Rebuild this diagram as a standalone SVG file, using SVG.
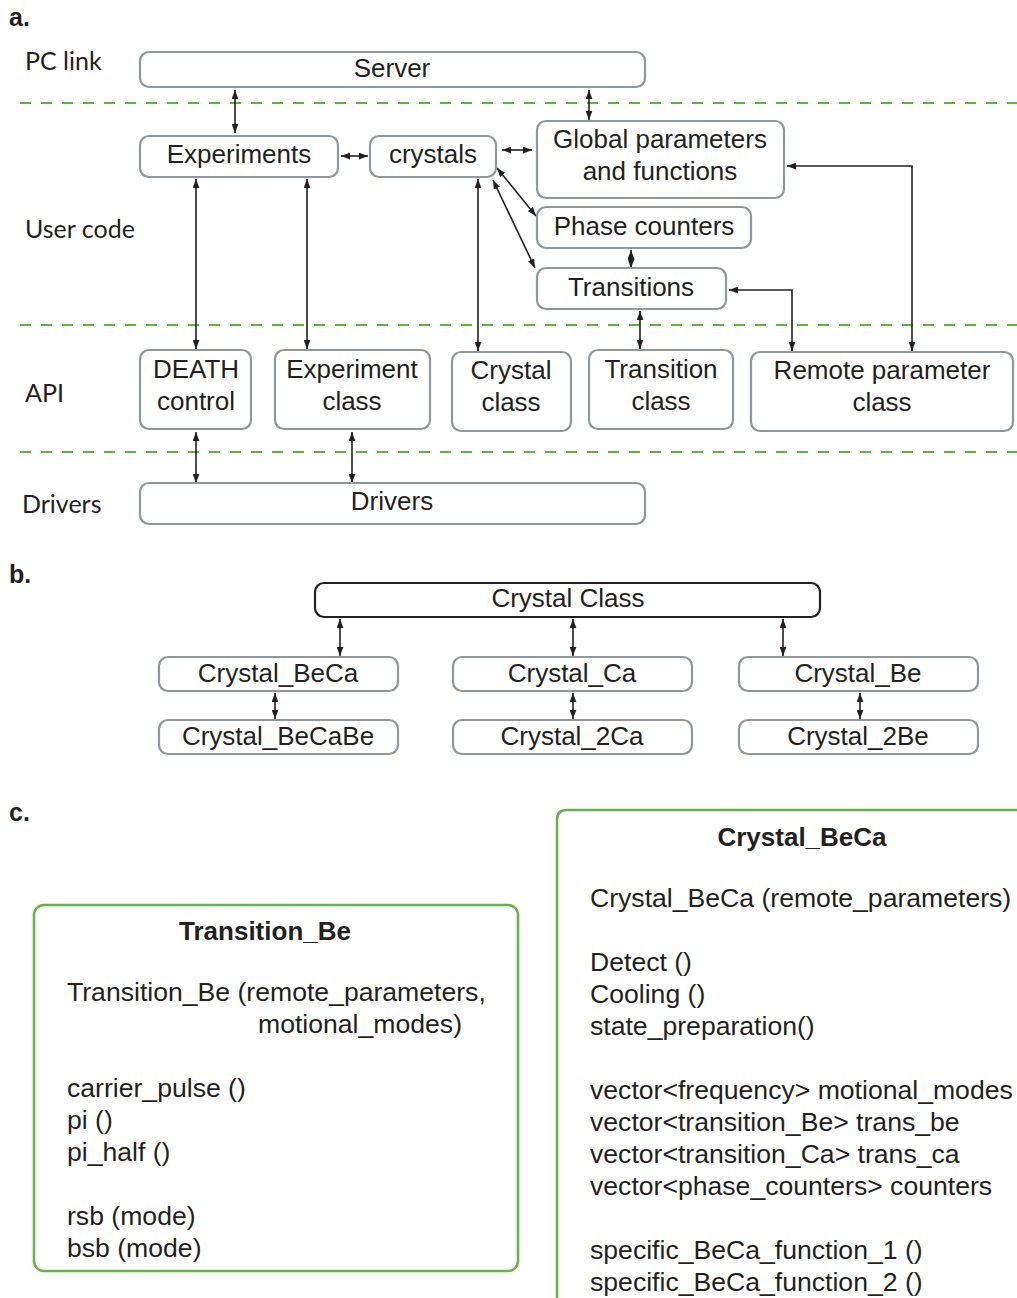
<svg xmlns="http://www.w3.org/2000/svg" width="1017" height="1298" viewBox="0 0 1017 1298">
<defs>
<marker id="ah" viewBox="0 0 8 6" refX="8" refY="3" markerWidth="9" markerHeight="7" markerUnits="userSpaceOnUse" orient="auto-start-reverse">
<path d="M0,0 L8,3 L0,6 z" fill="#231f20"/>
</marker>
<style>
.box{fill:#fff;stroke:#8f969c;stroke-width:2.2}
.bbox{fill:#fff;stroke:#231f20;stroke-width:2.2}
.gbox{fill:#fff;stroke:#6ab04c;stroke-width:2.5}
.t{font-family:"Liberation Sans",Arial,sans-serif;font-size:26px;fill:#231f20;text-anchor:middle}
.tl{font-family:"Liberation Sans",Arial,sans-serif;font-size:26.6px;fill:#231f20}
.tb{font-family:"Liberation Sans",Arial,sans-serif;font-size:26px;font-weight:bold;fill:#231f20;text-anchor:middle}
.lab{font-family:Lato,"Open Sans",sans-serif;font-size:25px;fill:#231f20}
.pl{font-family:"Liberation Sans",Arial,sans-serif;font-size:25px;font-weight:bold;fill:#231f20}
.dash{stroke:#5fb43b;stroke-width:2;stroke-dasharray:11 10;fill:none}
.c{stroke:#231f20;stroke-width:1.6;fill:none;marker-start:url(#ah);marker-end:url(#ah)}
</style>
</defs>
<rect width="1017" height="1298" fill="#fff"/>

<!-- panel labels -->
<text class="pl" x="9" y="26">a.</text>
<text class="pl" x="9" y="583">b.</text>
<text class="pl" x="9" y="821">c.</text>

<!-- layer labels -->
<text class="lab" x="25" y="70">PC link</text>
<text class="lab" x="25" y="238">User code</text>
<text class="lab" x="25" y="402">API</text>
<text class="lab" x="22" y="513">Drivers</text>

<!-- dashed separators -->
<g id="separators">
<line class="dash" x1="20" y1="103" x2="1017" y2="103"/>
<line class="dash" x1="20" y1="325" x2="1017" y2="325"/>
<line class="dash" x1="20" y1="452" x2="1017" y2="452"/>
</g>

<!-- connectors -->
<g id="connectors">
<line class="c" x1="235" y1="90" x2="235" y2="133"/>
<line class="c" x1="589" y1="90" x2="589" y2="120"/>
<line class="c" x1="341" y1="156" x2="368" y2="156"/>
<line class="c" x1="502" y1="150" x2="532" y2="150"/>
<line class="c" x1="497" y1="168" x2="536" y2="216"/>
<line class="c" x1="493" y1="180" x2="535" y2="268"/>
<line class="c" x1="631" y1="250" x2="631" y2="268"/>
<path class="c" d="M787,166 H912 V351"/>
<path class="c" d="M729,290 H792 V351"/>
<line class="c" x1="640" y1="311" x2="640" y2="349"/>
<line class="c" x1="478" y1="179" x2="478" y2="351"/>
<line class="c" x1="196" y1="179" x2="196" y2="349"/>
<line class="c" x1="307" y1="179" x2="307" y2="349"/>
<line class="c" x1="196" y1="432" x2="196" y2="483"/>
<line class="c" x1="352" y1="432" x2="352" y2="483"/>
<line class="c" x1="340" y1="619" x2="340" y2="656"/>
<line class="c" x1="573" y1="619" x2="573" y2="656"/>
<line class="c" x1="783" y1="619" x2="783" y2="656"/>
<line class="c" x1="275" y1="693" x2="275" y2="719"/>
<line class="c" x1="573" y1="693" x2="573" y2="719"/>
<line class="c" x1="860" y1="693" x2="860" y2="719"/>
</g>

<!-- part a nodes -->
<g id="server"><rect class="box" x="140" y="52" width="505" height="35" rx="9"/><text class="t" x="392" y="77">Server</text></g>
<g id="experiments"><rect class="box" x="140" y="136" width="198" height="41" rx="9"/><text class="t" x="239" y="163">Experiments</text></g>
<g id="crystals"><rect class="box" x="370" y="136" width="126" height="41" rx="9"/><text class="t" x="433" y="163">crystals</text></g>
<g id="global"><rect class="box" x="537" y="121" width="247" height="77" rx="9"/><text class="t" x="660" y="148">Global parameters</text><text class="t" x="660" y="180">and functions</text></g>
<g id="phase"><rect class="box" x="537" y="207" width="214" height="41" rx="9"/><text class="t" x="644" y="235">Phase counters</text></g>
<g id="transitions"><rect class="box" x="537" y="268" width="189" height="41" rx="9"/><text class="t" x="631" y="296">Transitions</text></g>
<g id="death"><rect class="box" x="140" y="350" width="111" height="79" rx="9"/><text class="t" x="196" y="378">DEATH</text><text class="t" x="196" y="410">control</text></g>
<g id="experimentclass"><rect class="box" x="275" y="350" width="155" height="79" rx="9"/><text class="t" x="352" y="378">Experiment</text><text class="t" x="352" y="410">class</text></g>
<g id="crystalclass"><rect class="box" x="452" y="352" width="119" height="79" rx="9"/><text class="t" x="511" y="379">Crystal</text><text class="t" x="511" y="411">class</text></g>
<g id="transitionclass"><rect class="box" x="589" y="350" width="144" height="79" rx="9"/><text class="t" x="661" y="378">Transition</text><text class="t" x="661" y="410">class</text></g>
<g id="remoteclass"><rect class="box" x="751" y="352" width="262" height="79" rx="9"/><text class="t" x="882" y="379">Remote parameter</text><text class="t" x="882" y="411">class</text></g>
<g id="drivers"><rect class="box" x="140" y="483" width="505" height="41" rx="9"/><text class="t" x="392" y="510">Drivers</text></g>

<!-- part b nodes -->
<g id="crystalclass-b"><rect class="bbox" x="315" y="583" width="505" height="34" rx="9"/><text class="t" x="568" y="607">Crystal Class</text></g>
<g id="crystal-beca"><rect class="box" x="159" y="657" width="239" height="34" rx="9"/><text class="t" x="278" y="682">Crystal_BeCa</text></g>
<g id="crystal-ca"><rect class="box" x="453" y="657" width="239" height="34" rx="9"/><text class="t" x="572" y="682">Crystal_Ca</text></g>
<g id="crystal-be"><rect class="box" x="739" y="657" width="239" height="34" rx="9"/><text class="t" x="858" y="682">Crystal_Be</text></g>
<g id="crystal-becabe"><rect class="box" x="159" y="720" width="239" height="34" rx="9"/><text class="t" x="278" y="745">Crystal_BeCaBe</text></g>
<g id="crystal-2ca"><rect class="box" x="453" y="720" width="239" height="34" rx="9"/><text class="t" x="572" y="745">Crystal_2Ca</text></g>
<g id="crystal-2be"><rect class="box" x="739" y="720" width="239" height="34" rx="9"/><text class="t" x="858" y="745">Crystal_2Be</text></g>

<!-- part c -->
<g id="transition-be">
<rect class="gbox" x="34" y="905" width="484" height="366" rx="10"/>
<text class="tb" x="265" y="940">Transition_Be</text>
<text class="tl" x="67" y="1001">Transition_Be (remote_parameters,</text>
<text class="tl" x="258" y="1033">motional_modes)</text>
<text class="tl" x="67" y="1097">carrier_pulse ()</text>
<text class="tl" x="67" y="1129">pi ()</text>
<text class="tl" x="67" y="1161">pi_half ()</text>
<text class="tl" x="67" y="1225">rsb (mode)</text>
<text class="tl" x="67" y="1257">bsb (mode)</text>
</g>
<g id="crystal-beca-c">
<path class="gbox" d="M557,1300 V820 Q557,810 567,810 H1020"/>
<text class="tb" x="802" y="846">Crystal_BeCa</text>
<text class="tl" x="590" y="907">Crystal_BeCa (remote_parameters)</text>
<text class="tl" x="590" y="971">Detect ()</text>
<text class="tl" x="590" y="1003">Cooling ()</text>
<text class="tl" x="590" y="1035">state_preparation()</text>
<text class="tl" x="590" y="1099">vector&lt;frequency&gt; motional_modes</text>
<text class="tl" x="590" y="1131">vector&lt;transition_Be&gt; trans_be</text>
<text class="tl" x="590" y="1163">vector&lt;transition_Ca&gt; trans_ca</text>
<text class="tl" x="590" y="1195">vector&lt;phase_counters&gt; counters</text>
<text class="tl" x="590" y="1259">specific_BeCa_function_1 ()</text>
<text class="tl" x="590" y="1291">specific_BeCa_function_2 ()</text>
</g>
</svg>
